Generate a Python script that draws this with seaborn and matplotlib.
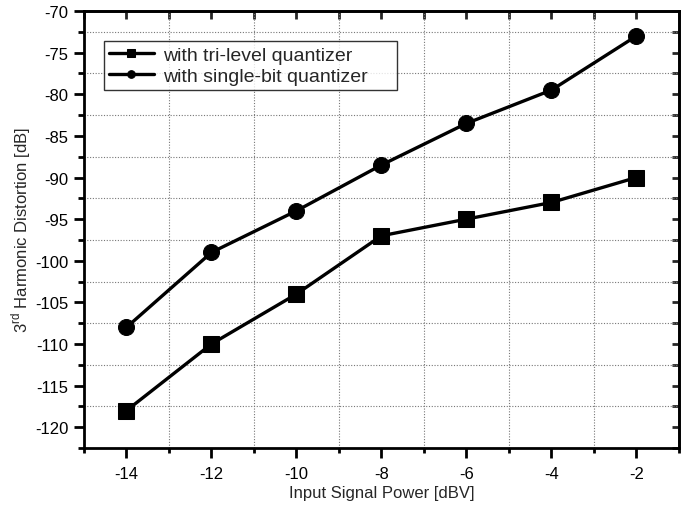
import matplotlib
matplotlib.use("Agg")
import matplotlib.pyplot as plt
from matplotlib.ticker import MultipleLocator
import seaborn as sns
import pandas as pd

# data
input_power = [-14, -12, -10, -8, -6, -4, -2]
tri_level = [-118, -110, -104, -97, -95, -93, -90]
single_bit = [-108, -99, -94, -88.5, -83.5, -79.5, -73]
series_names = ["with tri-level quantizer", "with single-bit quantizer"]

sns.set_style("white")
plt.rcParams['font.family'] = ['Liberation Sans', 'DejaVu Sans']
plt.rcParams['mathtext.fontset'] = 'custom'
plt.rcParams['mathtext.rm'] = 'Liberation Sans'
plt.rcParams['axes.unicode_minus'] = False

df = pd.DataFrame({
    "x": input_power * 2,
    "y": tri_level + single_bit,
    "series": [series_names[0]] * len(input_power) + [series_names[1]] * len(input_power),
})

fig = plt.figure(figsize=(6.92, 5.06), dpi=100)
ax = fig.add_axes([0.1214, 0.1126, 0.8596, 0.8636])

sns.lineplot(data=df, x="x", y="y", hue="series", style="series",
             markers={series_names[0]: "s", series_names[1]: "o"},
             dashes=False, palette={series_names[0]: "black", series_names[1]: "black"},
             linewidth=2.4, markersize=11.5, markeredgecolor="black", ax=ax)

ax.set_xlim(-15, -1)
ax.set_ylim(-122.5, -70)
ax.xaxis.set_major_locator(MultipleLocator(2))
ax.xaxis.set_minor_locator(MultipleLocator(1))
ax.yaxis.set_major_locator(MultipleLocator(5))
ax.yaxis.set_minor_locator(MultipleLocator(2.5))

# dotted grid on the minor positions
ax.grid(False)
ax.grid(True, which="minor", linestyle=(0, (1, 1.5)), color="#777777", linewidth=0.8)

for s in ax.spines.values():
    s.set_color("black")
    s.set_linewidth(2)

ax.tick_params(which="both", direction="out", bottom=True, left=True, top=False, right=False,
               width=2, colors="black", labelsize=12)
ax.tick_params(axis="x", which="major", length=7, pad=6)
ax.tick_params(axis="x", which="minor", length=3.6)
ax.tick_params(axis="y", which="major", length=7, pad=4)
ax.tick_params(axis="y", which="minor", length=4.3)

# inward ticks on top and right
axt = ax.secondary_xaxis("top")
axt.xaxis.set_major_locator(MultipleLocator(1))
axt.tick_params(direction="in", length=5.8, width=2, labeltop=False)
axt.spines["top"].set_linewidth(2)
axr = ax.secondary_yaxis("right")
axr.yaxis.set_major_locator(MultipleLocator(2.5))
axr.tick_params(direction="in", length=5, width=2, labelright=False)
axr.spines["right"].set_linewidth(2)

ax.set_xlabel("Input Signal Power [dBV]", fontsize=12, labelpad=3)
ax.set_ylabel("3$^{\\mathrm{rd}}$ Harmonic Distortion [dB]", fontsize=12, labelpad=2)

leg = ax.legend(loc="upper left", bbox_to_anchor=(0.034, 0.5, 0.4924, 0.431), mode="expand",
                fontsize=14, frameon=True, fancybox=False, edgecolor="black", handlelength=2.3,
                borderpad=0.25, borderaxespad=0, labelspacing=0.2, handletextpad=0.45)
leg.get_frame().set_linewidth(1)
for h in leg.legend_handles:
    h.set_markersize(5.5)
    h.set_linewidth(2.4)

fig.savefig("out.png", dpi=100)
